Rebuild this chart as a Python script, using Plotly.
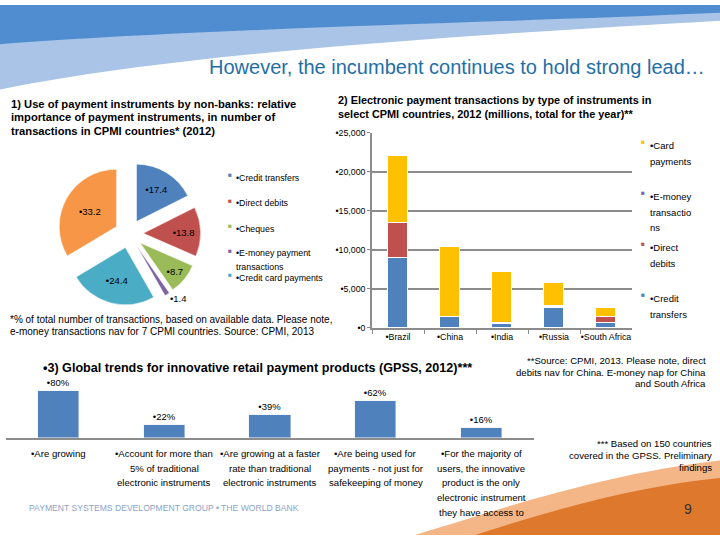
import plotly.graph_objects as go

W, H = 720, 540

# ---------------- data ----------------
pie_labels = ["Credit transfers", "Direct debits", "Cheques",
              "E-money payment transactions", "Credit card payments", "Other"]
pie_values = [17.4, 13.8, 8.7, 1.4, 24.4, 33.2]
pie_colors = ["#4F81BD", "#C0504D", "#9BBB59", "#8064A2", "#4BACC6", "#F79646"]

countries = ["Brazil", "China", "India", "Russia", "South Africa"]
credit_transfers = [9050, 1450, 500, 2650, 650]
direct_debits = [4400, None, 120, 60, 750]
e_money = [None, None, 30, 200, None]
card_payments = [8600, 8950, 6500, 2870, 1250]
y_ticks = [0, 5000, 10000, 15000, 20000, 25000]

trend_labels = [
    ["•Are growing"],
    ["•Account for more than", "5% of traditional", "electronic instruments"],
    ["•Are growing at a faster", "rate than traditional", "electronic instruments"],
    ["•Are being used for", "payments - not just for", "safekeeping of money"],
    ["•For the majority of", "users, the innovative", "product is the only",
     "electronic instrument", "they have access to"],
]
trend_keys = ["g1", "g2", "g3", "g4", "g5"]
trend_values = [80, 22, 39, 62, 16]

FONT = "Liberation Sans, Arial, sans-serif"
GRID = "#8C8C8C"


def px(x):
    return x / W


def py(y):
    return 1 - y / H


fig = go.Figure()

# ---------------- chart 1: pie ----------------
fig.add_trace(go.Pie(
    labels=pie_labels, values=pie_values, sort=False, direction="clockwise",
    rotation=0, pull=[0.25] * len(pie_values),
    marker=dict(colors=pie_colors, line=dict(color="white", width=0.5)),
    texttemplate="•%{value}",
    textposition=["inside", "inside", "inside", "outside", "inside", "inside"],
    insidetextorientation="horizontal",
    textfont=dict(size=9.5, color="black", family=FONT),
    domain=dict(x=[px(56), px(202)], y=[py(306), py(160)]),
    showlegend=False, hoverinfo="label+value",
))

# ---------------- chart 2: stacked bars ----------------
series = [
    ("Credit transfers", credit_transfers, "#4F81BD"),
    ("Direct debits", direct_debits, "#C0504D"),
    ("E-money transactions", e_money, "#8064A2"),
    ("Card payments", card_payments, "#FFC000"),
]
for name, vals, col in series:
    fig.add_trace(go.Bar(
        x=countries, y=vals, name=name, width=0.38,
        marker=dict(color=col, line=dict(color="white", width=1)),
        xaxis="x", yaxis="y", showlegend=False,
    ))

# ---------------- chart 3: bars ----------------
fig.add_trace(go.Bar(
    x=trend_keys, y=trend_values, width=0.39,
    marker=dict(color="#4F81BD"),
    texttemplate="•%{y}%", textposition="outside",
    textfont=dict(size=9.5, color="black", family=FONT),
    cliponaxis=False, xaxis="x2", yaxis="y2", showlegend=False,
))

annotations = []


def txt(x, y, s, size=9, color="black", anchor="left", bold=False, xref="paper"):
    if bold:
        s = "<b>" + s + "</b>"
    annotations.append(dict(
        x=x if xref != "paper" else px(x), y=py(y), xref=xref, yref="paper",
        text=s, showarrow=False, xanchor=anchor, yanchor="middle",
        font=dict(size=size, color=color, family=FONT),
    ))


# titles
txt(707, 63, "However, the incumbent continues to hold strong lead…", 20,
    "#1F6FA6", "right")
for i, line in enumerate(["1) Use of payment instruments by non-banks: relative",
                          "importance of payment instruments, in number of",
                          "transactions in CPMI countries* (2012)"]):
    txt(9, 101 + 13.5 * i, line, 11.2, "black", "left", True)
for i, line in enumerate(["2) Electronic payment transactions by type of instruments in",
                          "select CPMI countries, 2012 (millions, total for the year)**"]):
    txt(336, 97 + 14 * i, line, 10.9, "black", "left", True)
txt(257, 370, "•3) Global trends for innovative retail payment products (GPSS, 2012)***",
    12.6, "black", "center", True)

# pie legend
pie_leg = [(0, 174, ["•Credit transfers"]), (1, 200, ["•Direct debits"]),
           (2, 226, ["•Cheques"]), (3, 251, ["•E-money payment", "transactions"]),
           (4, 276, ["•Credit card payments"])]
for idx, y, lines in pie_leg:
    txt(230, y - 1, "■", 6.5, pie_colors[idx], "center")
    for j, line in enumerate(lines):
        yy = y + 2 + 14 * j
        txt(234, yy, line, 8.8)

# bar chart legend
bar_leg = [(3, 140, ["•Card", "payments"]),
           (2, 192, ["•E-money", "transactio", "ns"]),
           (1, 244, ["•Direct", "debits"]),
           (0, 296, ["•Credit", "transfers"])]
for idx, y, lines in bar_leg:
    txt(643, y - 1, "■", 6.5, series[idx][2], "center")
    for j, line in enumerate(lines):
        txt(648, y + 3 + 16 * j, line, 9.5)

# chart 3 category labels
for key, lines in zip(trend_keys, trend_labels):
    for j, line in enumerate(lines):
        txt(key, 457 + 15 * j, line, 9.6, "black", "center", xref="x2")

# notes
txt(8, 320, "*% of total number of transactions, based on available data. Please note,", 10)
txt(8, 333, "e-money transactions nav for 7 CPMI countries. Source: CPMI, 2013", 10)
for i, line in enumerate(["**Source: CPMI, 2013. Please note, direct",
                          "debits nav for China. E-money nap for China",
                          "and South Africa"]):
    txt(708, 362 + 12 * i, line, 9.6, "black", "right")
for i, line in enumerate(["*** Based on 150 countries",
                          "covered in the GPSS. Preliminary",
                          "findings"]):
    txt(714, 447 + 12 * i, line, 9.6, "black", "right")
txt(27, 512, "PAYMENT SYSTEMS DEVELOPMENT GROUP • THE WORLD BANK", 8.6, "#8BA3C7")
txt(688, 514, "9", 14, "#333333", "center")


def P(x, y):
    return f"{px(x):.4f},{py(y):.4f}"


# decorative swooshes
shapes = [
    dict(type="path", xref="paper", yref="paper", layer="below", line_width=0,
         fillcolor="#A9C4E6",
         path=f"M {P(0,0)} L {P(720,0)} L {P(720,16)} C {P(520,28)} {P(200,45)} {P(0,86)} Z"),
    dict(type="path", xref="paper", yref="paper", layer="below", line_width=0,
         fillcolor="#4F8DD0",
         path=f"M {P(0,0)} L {P(720,0)} L {P(720,8)} C {P(500,18)} {P(200,24)} {P(0,40)} Z"),
    dict(type="path", xref="paper", yref="paper", layer="below", line_width=0,
         fillcolor="#F4B686",
         path=f"M {P(415,540)} C {P(500,514)} {P(600,478)} {P(720,464)} L {P(720,540)} Z"),
    dict(type="path", xref="paper", yref="paper", layer="below", line_width=0,
         fillcolor="#DD782C",
         path=f"M {P(475,540)} C {P(560,512)} {P(640,490)} {P(720,482)} L {P(720,540)} Z"),
]

fig.update_layout(
    width=W, height=H, margin=dict(l=0, r=0, t=0, b=0),
    paper_bgcolor="white", plot_bgcolor="rgba(0,0,0,0)",
    barmode="stack", bargap=0, font=dict(family=FONT, size=9, color="black"),
    annotations=annotations, shapes=shapes,
    xaxis=dict(domain=[px(372), px(632)], anchor="y", type="category",
               showline=True, linecolor=GRID, linewidth=1.5,
               ticks="outside", tickson="boundaries", ticklen=4, tickcolor=GRID,
               tickvals=countries, ticktext=["•" + c for c in countries],
               tickangle=0, tickfont=dict(size=8.8), showgrid=False, fixedrange=True),
    yaxis=dict(domain=[py(329), py(130)], anchor="x", range=[0, 25000],
               tickvals=y_ticks, ticktext=["•" + f"{v:,}" for v in y_ticks],
               showline=True, linecolor=GRID, linewidth=1.5,
               ticks="outside", ticklen=3, tickcolor=GRID,
               showgrid=True, gridcolor=GRID, gridwidth=1.8,
               zeroline=False, tickfont=dict(size=8.8), fixedrange=True),
    xaxis2=dict(domain=[px(6), px(534)], anchor="y2", type="category",
                showticklabels=False, showline=True, linecolor=GRID, linewidth=2,
                ticks="", showgrid=False, fixedrange=True),
    yaxis2=dict(domain=[py(441), py(381)], anchor="x2", range=[0, 100],
                visible=False, fixedrange=True),
)

fig.write_html("out.html", config={"displayModeBar": False},
               post_script="document.body.style.margin='0';document.body.style.padding='0';")
